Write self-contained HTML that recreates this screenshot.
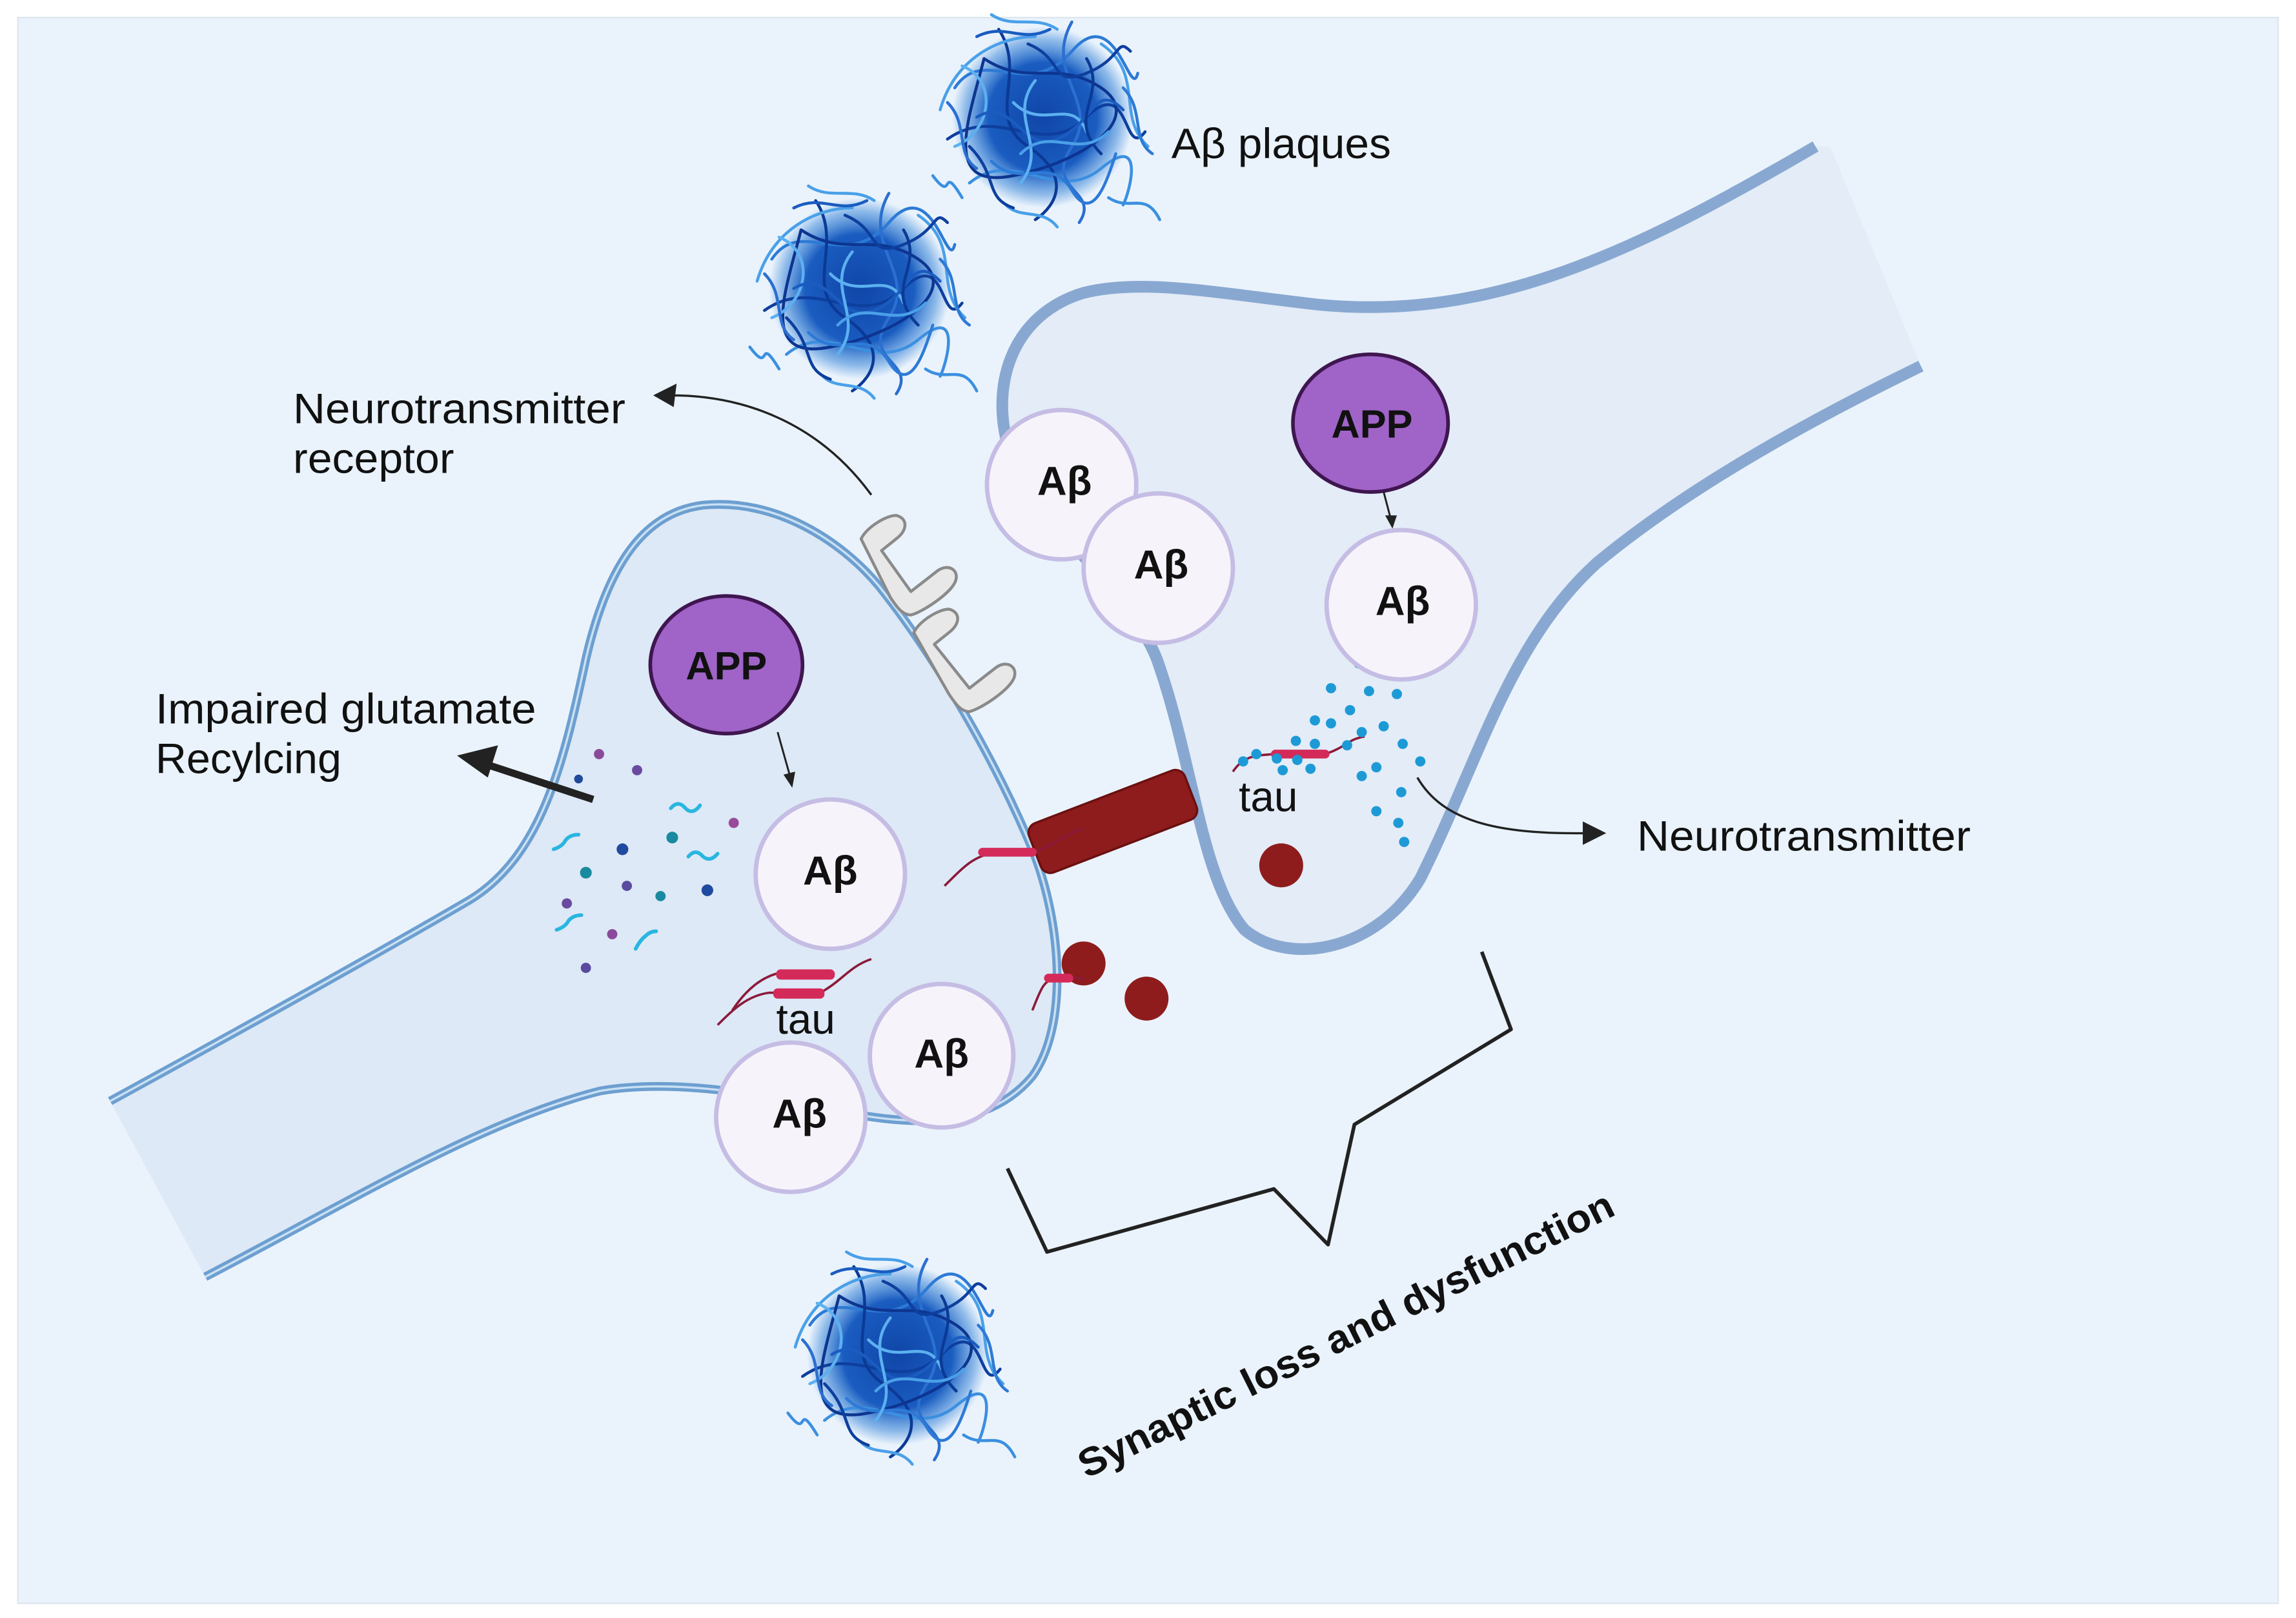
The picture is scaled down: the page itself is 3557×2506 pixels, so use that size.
<!DOCTYPE html>
<html><head><meta charset="utf-8"><style>
html,body{margin:0;padding:0;background:#fff;}
svg{display:block}
text{font-family:"Liberation Sans",sans-serif;}
</style></head><body>
<svg width="3557" height="2506" viewBox="0 0 1568 1105" xmlns="http://www.w3.org/2000/svg">
<defs>
<radialGradient id="pl" cx="0.5" cy="0.5" r="0.5">
<stop offset="0" stop-color="#1046a8"/><stop offset="0.6" stop-color="#1a5cc0"/><stop offset="0.85" stop-color="#2f7fd6" stop-opacity="0.5"/><stop offset="1" stop-color="#3b86d8" stop-opacity="0"/></radialGradient>
<g id="plaque">
<circle r="62" fill="url(#pl)"/>
<g fill="none" stroke-width="2" stroke-linecap="round">
<path d="M-60,-20 C-40,-50 -10,-10 20,-45 S60,-10 65,-30" stroke="#2d7ad6"/>
<path d="M-65,15 C-30,-10 0,30 30,0 S55,30 70,10" stroke="#0e3f9e"/>
<path d="M-50,45 C-20,20 10,60 40,35 S60,50 55,60" stroke="#3b8fe0"/>
<path d="M-30,-60 C-10,-30 -40,0 -10,20 S10,60 -5,70" stroke="#0b3a96"/>
<path d="M20,-65 C0,-30 40,-10 20,20 S40,50 25,72" stroke="#2b6fd0"/>
<path d="M-70,-5 C-60,-40 -30,-55 -5,-55" stroke="#4aa0e8"/>
<path d="M40,-50 C70,-30 50,0 72,20" stroke="#4aa0e8"/>
<path d="M-55,55 C-70,30 -60,60 -75,40" stroke="#3b8fe0"/>
<path d="M45,55 C60,65 70,50 80,70" stroke="#3b8fe0"/>
<path d="M-40,-40 C-10,-20 10,-40 40,-20 S30,30 -20,40 S-50,0 -40,-40" stroke="#0d3590"/>
<path d="M-20,-10 C0,10 20,-15 30,10" stroke="#5cb0f0"/>
<path d="M-55,-35 C-30,-25 -35,10 -60,20" stroke="#5cb0f0"/>
<path d="M-45,0 C-20,-15 -15,25 10,15 S35,-25 55,-5" stroke="#1a5cc0"/>
<path d="M-10,-50 C15,-40 5,-20 30,-30 S50,-55 60,-45" stroke="#0e3f9e"/>
<path d="M-35,30 C-15,50 5,25 20,50 S45,40 50,25" stroke="#2d7ad6"/>
<path d="M-5,-25 C-25,0 5,20 -15,45" stroke="#5cb0f0"/>
<path d="M30,-40 C45,-15 15,0 40,25" stroke="#0b3a96"/>
<path d="M-65,-10 C-50,5 -60,25 -45,35" stroke="#2b6fd0"/>
<path d="M10,-60 C-5,-70 -20,-60 -35,-70" stroke="#4aa0e8"/>
<path d="M-25,60 C-15,70 0,62 10,75" stroke="#4aa0e8"/>
<path d="M55,-20 C70,-5 60,15 75,25" stroke="#2d7ad6"/>
<path d="M-45,-55 C-25,-65 -15,-50 5,-60" stroke="#1a5cc0"/>
<path d="M-15,25 C5,5 25,30 45,10" stroke="#4aa0e8"/>
<path d="M-50,20 C-30,40 -40,55 -20,62" stroke="#0e3f9e"/>
</g></g>
<linearGradient id="tipR" x1="0" x2="1"><stop offset="0" stop-color="#e3ecf7"/><stop offset="1" stop-color="#eaf3fc"/></linearGradient>
</defs>
<rect x="0" y="0" width="1568" height="1105" fill="#fff"/>
<rect x="12" y="12" width="1544" height="1083" fill="#eaf3fc" stroke="#dde6ef" stroke-width="1"/>

<use href="#plaque" x="712" y="80"/>
<use href="#plaque" x="587" y="197"/>
<use href="#plaque" x="613" y="925"/>

<!-- right neuron -->
<path d="M1240,100 C1120,170 1020,220 900,208 C830,200 780,190 740,200 C690,215 675,265 690,310 C710,360 770,400 790,450 C815,520 820,600 850,635 C880,660 940,650 970,600 C1010,520 1030,440 1090,385 C1150,335 1230,290 1312,250 L1250,100 Z" fill="#e3ecf7"/>
<path d="M1240,100 C1120,170 1020,220 900,208 C830,200 780,190 740,200 C690,215 675,265 690,310 C710,360 770,400 790,450 C815,520 820,600 850,635 C880,660 940,650 970,600 C1010,520 1030,440 1090,385 C1150,335 1230,290 1312,250" fill="none" stroke="#89a8d1" stroke-width="8"/>

<!-- left neuron -->
<path d="M75,752 C170,700 260,650 320,615 C370,585 385,520 400,450 C415,385 440,350 480,345 C530,340 575,370 600,400 C640,450 680,520 705,580 C725,630 730,700 705,735 C680,765 640,770 590,762 C540,752 470,735 410,745 C330,765 240,820 140,872 Z" fill="#dde9f6"/>
<path d="M75,752 C170,700 260,650 320,615 C370,585 385,520 400,450 C415,385 440,350 480,345 C530,340 575,370 600,400 C640,450 680,520 705,580 C725,630 730,700 705,735 C680,765 640,770 590,762 C540,752 470,735 410,745 C330,765 240,820 140,872" fill="none" stroke="#6d9fd0" stroke-width="6"/>
<path d="M75,752 C170,700 260,650 320,615 C370,585 385,520 400,450 C415,385 440,350 480,345 C530,340 575,370 600,400 C640,450 680,520 705,580 C725,630 730,700 705,735 C680,765 640,770 590,762 C540,752 470,735 410,745 C330,765 240,820 140,872" fill="none" stroke="#c9e0f4" stroke-width="1.5"/>

<!-- receptor -->
<g fill="#e8e8e8" stroke="#8a8a8a" stroke-width="2" stroke-linejoin="round" stroke-linecap="round">
<path d="M588,368 C592,360 605,352 612,352 C620,354 620,362 612,368 L602,376 L622,404 L640,390 C648,384 656,390 652,398 C648,406 630,418 622,420 C616,420 612,414 608,408 Z"/>
<path d="M624,432 C628,424 641,416 648,416 C656,418 656,426 648,432 L638,440 L662,470 L680,456 C688,450 696,456 692,464 C688,472 670,484 662,486 C656,486 652,480 648,474 Z"/>
</g>

<g transform="translate(760,561) rotate(-21)">
<rect x="-57" y="-18" width="114" height="36" rx="7" fill="#8e1c1c" stroke="#6a1010" stroke-width="1.5"/>
</g>
<circle cx="875" cy="591" r="15" fill="#8e1c1c"/>
<circle cx="740" cy="658" r="15" fill="#8e1c1c"/>
<circle cx="783" cy="682" r="15" fill="#8e1c1c"/>

<g fill="none" stroke="#8b1a3a" stroke-width="1.6">
<path d="M645,605 C660,590 665,585 680,582 L705,582 C720,578 725,570 740,566"/>
<path d="M490,700 C500,690 510,680 525,678 L560,678 C575,670 580,660 595,655"/>
<path d="M500,690 C510,675 520,668 530,665 L570,665"/>
<path d="M705,690 C710,678 712,670 720,668 L740,668"/>
<path d="M842,527 C850,515 860,516 870,515 L905,515 C920,510 920,505 932,503"/>
</g>
<g fill="#d42a5a">
<rect x="668" y="579" width="40" height="6" rx="3"/>
<rect x="528" y="675" width="35" height="7" rx="3"/>
<rect x="530" y="662" width="40" height="7" rx="3"/>
<rect x="713" y="665" width="20" height="6" rx="3"/>
<rect x="868" y="512" width="40" height="6" rx="3"/>
</g>

<g>
<circle cx="409" cy="515" r="3.5" fill="#8a4a9a"/><circle cx="395" cy="532" r="3" fill="#1f4a9a"/>
<circle cx="435" cy="526" r="3.5" fill="#6a4aa0"/><circle cx="501" cy="562" r="3.5" fill="#9a4a9a"/>
<circle cx="425" cy="580" r="4" fill="#1f4aa0"/><circle cx="459" cy="572" r="4" fill="#1a8aa0"/>
<circle cx="400" cy="596" r="4" fill="#1a8aa0"/><circle cx="428" cy="605" r="3.5" fill="#5a4aa0"/>
<circle cx="451" cy="612" r="3.5" fill="#1a8aa0"/><circle cx="483" cy="608" r="4" fill="#1f4aa0"/>
<circle cx="387" cy="617" r="3.5" fill="#6a4aa0"/><circle cx="418" cy="638" r="3.5" fill="#8a4a9a"/>
<circle cx="400" cy="661" r="3.5" fill="#5a4aa0"/>
</g>
<g fill="none" stroke="#29b6e0" stroke-width="2.5" stroke-linecap="round">
<path d="M458,552 q5,-6 10,0 q5,5 10,-2"/>
<path d="M378,580 q6,-2 8,-6 q3,-4 9,-4"/>
<path d="M470,585 q5,-6 10,0 q5,4 10,-2"/>
<path d="M380,635 q6,-2 8,-6 q3,-4 9,-4"/>
<path d="M434,648 q3,-6 7,-9 q3,-3 7,-3"/>
</g>

<g fill="#1d9ad6">
<circle cx="928" cy="453" r="3.5"/><circle cx="909" cy="470" r="3.5"/><circle cx="935" cy="472" r="3.5"/><circle cx="954" cy="474" r="3.5"/>
<circle cx="922" cy="485" r="3.5"/><circle cx="898" cy="492" r="3.5"/><circle cx="909" cy="494" r="3.5"/><circle cx="930" cy="500" r="3.5"/><circle cx="945" cy="496" r="3.5"/>
<circle cx="885" cy="506" r="3.5"/><circle cx="898" cy="508" r="3.5"/><circle cx="920" cy="509" r="3.5"/><circle cx="958" cy="508" r="3.5"/>
<circle cx="858" cy="515" r="3.5"/><circle cx="872" cy="518" r="3.5"/><circle cx="886" cy="519" r="3.5"/><circle cx="940" cy="524" r="3.5"/><circle cx="970" cy="520" r="3.5"/>
<circle cx="849" cy="520" r="3.5"/><circle cx="876" cy="526" r="3.5"/><circle cx="895" cy="525" r="3.5"/><circle cx="930" cy="530" r="3.5"/><circle cx="957" cy="541" r="3.5"/>
<circle cx="940" cy="554" r="3.5"/><circle cx="955" cy="562" r="3.5"/><circle cx="959" cy="575" r="3.5"/>
</g>

<g fill="#f7f3fb" stroke="#c5bde4" stroke-width="3">
<circle cx="725" cy="331" r="51"/>
<circle cx="791" cy="388" r="51"/>
<circle cx="957" cy="413" r="51"/>
<circle cx="567" cy="597" r="51"/>
<circle cx="643" cy="721" r="49"/>
<circle cx="540" cy="763" r="51"/>
</g>
<g font-weight="bold" font-size="28" text-anchor="middle" fill="#111">
<text x="727" y="338">Aβ</text>
<text x="793" y="395">Aβ</text>
<text x="958" y="420">Aβ</text>
<text x="567" y="604">Aβ</text>
<text x="643" y="729">Aβ</text>
<text x="546" y="770">Aβ</text>
</g>

<g fill="#a064c8" stroke="#3f1650" stroke-width="2.5">
<ellipse cx="936" cy="289" rx="53" ry="47"/>
<ellipse cx="496" cy="454" rx="52" ry="47"/>
</g>
<g font-weight="bold" font-size="27" text-anchor="middle" fill="#111">
<text x="937" y="299">APP</text>
<text x="496" y="464">APP</text>
</g>

<g stroke="#222" stroke-width="1.3" fill="none">
<path d="M945,336 L950,355"/><path d="M531,500 L540,532"/>
</g>
<g fill="#222">
<path d="M951,361 L946,352 L954,352 Z"/>
<path d="M541,538 L535,529 L543,527 Z"/>
</g>

<path d="M595,338 C560,290 510,270 458,270" fill="none" stroke="#222" stroke-width="1.5"/>
<path d="M446,270 L462,262 L460,278 Z" fill="#222"/>
<path d="M405,546 L335,523" stroke="#222" stroke-width="5"/>
<path d="M312,516 L340,509 L333,531 Z" fill="#222"/>
<path d="M968,531 C985,560 1020,570 1085,569" fill="none" stroke="#222" stroke-width="1.5"/>
<path d="M1097,569 L1081,561 L1081,577 Z" fill="#222"/>

<path d="M688,798 L715,855 L870,812 L907,850 L925,768 L1032,703 L1012,650" fill="none" stroke="#222" stroke-width="2.5" stroke-linejoin="round"/>

<g font-size="29" fill="#111">
<text x="800" y="108" textLength="150" lengthAdjust="spacingAndGlyphs">Aβ plaques</text>
<text x="200" y="289" textLength="227" lengthAdjust="spacingAndGlyphs">Neurotransmitter</text>
<text x="200" y="323" textLength="110" lengthAdjust="spacingAndGlyphs">receptor</text>
<text x="106" y="494" textLength="260" lengthAdjust="spacingAndGlyphs">Impaired glutamate</text>
<text x="106" y="528" textLength="127" lengthAdjust="spacingAndGlyphs">Recylcing</text>
<text x="1118" y="581" textLength="228" lengthAdjust="spacingAndGlyphs">Neurotransmitter</text>
<text x="530" y="706">tau</text>
<text x="846" y="554">tau</text>
</g>
<text x="0" y="0" font-size="27" font-weight="bold" fill="#111" transform="translate(742,1010) rotate(-26.5)" textLength="405" lengthAdjust="spacingAndGlyphs">Synaptic loss and dysfunction</text>
</svg>
</body></html>
